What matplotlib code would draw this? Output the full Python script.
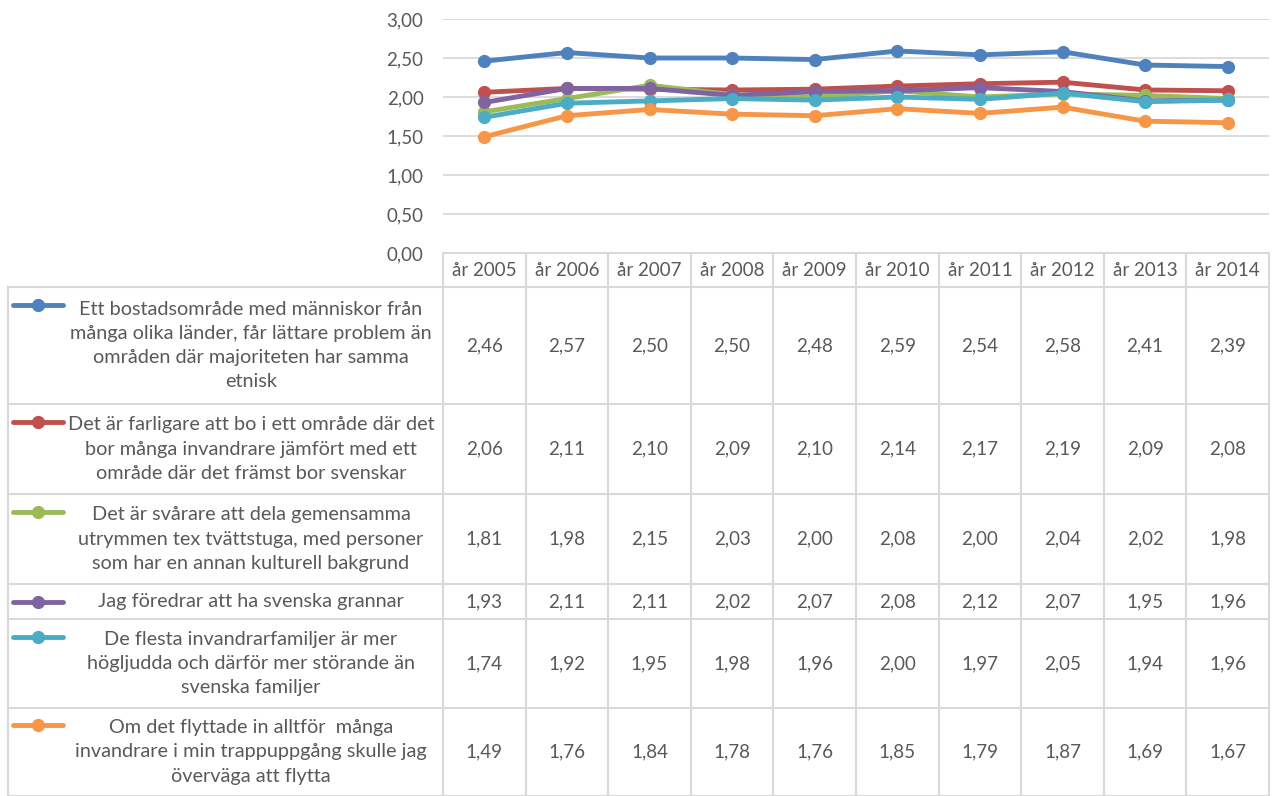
import matplotlib
matplotlib.use("Agg")
import matplotlib.pyplot as plt
from matplotlib.lines import Line2D
from matplotlib.transforms import blended_transform_factory

years = ["år 2005", "år 2006", "år 2007", "år 2008", "år 2009",
         "år 2010", "år 2011", "år 2012", "år 2013", "år 2014"]

labels = [
    "Ett bostadsområde med människor från\nmånga olika länder, får lättare problem än\nområden där majoriteten har samma\netnisk",
    "Det är farligare att bo i ett område där det\nbor många invandrare jämfört med ett\nområde där det främst bor svenskar",
    "Det är svårare att dela gemensamma\nutrymmen tex tvättstuga, med personer\nsom har en annan kulturell bakgrund",
    "Jag föredrar att ha svenska grannar",
    "De flesta invandrarfamiljer är mer\nhögljudda och därför mer störande än\nsvenska familjer",
    "Om det flyttade in alltför  många\ninvandrare i min trappuppgång skulle jag\növerväga att flytta",
]

s1 = [2.46, 2.57, 2.50, 2.50, 2.48, 2.59, 2.54, 2.58, 2.41, 2.39]
s2 = [2.06, 2.11, 2.10, 2.09, 2.10, 2.14, 2.17, 2.19, 2.09, 2.08]
s3 = [1.81, 1.98, 2.15, 2.03, 2.00, 2.08, 2.00, 2.04, 2.02, 1.98]
s4 = [1.93, 2.11, 2.11, 2.02, 2.07, 2.08, 2.12, 2.07, 1.95, 1.96]
s5 = [1.74, 1.92, 1.95, 1.98, 1.96, 2.00, 1.97, 2.05, 1.94, 1.96]
s6 = [1.49, 1.76, 1.84, 1.78, 1.76, 1.85, 1.79, 1.87, 1.69, 1.67]
series = [s1, s2, s3, s4, s5, s6]

colors = ["#4F81BD", "#C0504D", "#9BBB59", "#8064A2", "#4BACC6", "#F79646"]

yticks = [0.0, 0.5, 1.0, 1.5, 2.0, 2.5, 3.0]

W, H = 1274, 796
TXT = "#595959"
GRID = "#D9D9D9"
FONT = "Lato"
FS = 13.5
FS_LAB = 14.3

plt.rcParams["font.family"] = [FONT, "DejaVu Sans"]

fig = plt.figure(figsize=(W / 100, H / 100), dpi=100)

def fx(x):
    return x / W

def fy(y):
    return 1 - y / H

# plot area
x0, x1 = 443, 1269
ytop, ybot = 19, 253
ax = fig.add_axes([fx(x0), fy(ybot), fx(x1) - fx(x0), fy(ytop) - fy(ybot)])
ax.set_xlim(-0.5, len(years) - 0.5)
ax.set_ylim(0, 3)
for sp in ax.spines.values():
    sp.set_visible(False)
ax.set_yticks(yticks)
ax.set_yticklabels([f"{v:.2f}".replace(".", ",") for v in yticks],
                   color=TXT, fontsize=FS)
ax.tick_params(axis="y", length=0, pad=14)
ax.set_xticks([])
ax.yaxis.grid(True, color=GRID, linewidth=1.3)
ax.set_axisbelow(True)

xs = list(range(len(years)))
for vals, c in zip(series, colors):
    ax.plot(xs, vals, color=c, linewidth=3.5, marker="o", markersize=8.5,
            solid_capstyle="round", clip_on=False)

# table
row_edges = [253, 287, 404, 494, 584, 619, 708, 796]
tleft = 8
trans = blended_transform_factory(ax.transData, fig.transFigure)

def hline(xa, xb, y):
    fig.add_artist(Line2D([fx(xa), fx(xb)], [fy(y), fy(y)], color=GRID, lw=1.5))

def vline(x, ya, yb):
    fig.add_artist(Line2D([fx(x), fx(x)], [fy(ya), fy(yb)], color=GRID, lw=1.5))

hline(x0, x1, row_edges[0])
for y in row_edges[1:]:
    hline(tleft, x1, y)
vline(tleft, row_edges[1], row_edges[-1])
for i in range(len(years) + 1):
    xv = i - 0.5
    fig.add_artist(Line2D([xv, xv], [fy(row_edges[0]), fy(row_edges[-1])],
                          color=GRID, lw=1.5, transform=trans))

# header
hy = (row_edges[0] + row_edges[1]) / 2
for i, yl in enumerate(years):
    t = fig.text(0, fy(hy), yl, transform=trans, ha="center", va="center",
                 color=TXT, fontsize=FS)
    t.set_x(i)

# rows
for r, (lab, vals, c) in enumerate(zip(labels, series, colors)):
    ya, yb = row_edges[r + 1], row_edges[r + 2]
    yc = (ya + yb) / 2
    nlines = lab.count("\n") + 1
    first_y = yc - (nlines - 1) * 27 / 2
    fig.add_artist(Line2D([fx(13), fx(63)], [fy(first_y), fy(first_y)],
                          color=c, lw=3.5, solid_capstyle="round"))
    fig.add_artist(Line2D([fx(38)], [fy(first_y)], color=c, marker="o",
                          markersize=8.5, lw=0))
    fig.text(fx(251), fy(yc), lab, ha="center", va="center", color=TXT,
             fontsize=FS_LAB, linespacing=1.52, multialignment="center")
    for i, v in enumerate(vals):
        t = fig.text(0, fy(yc), f"{v:.2f}".replace(".", ","), transform=trans,
                     ha="center", va="center", color=TXT, fontsize=FS)
        t.set_x(i)

fig.savefig("out.png", dpi=100)
